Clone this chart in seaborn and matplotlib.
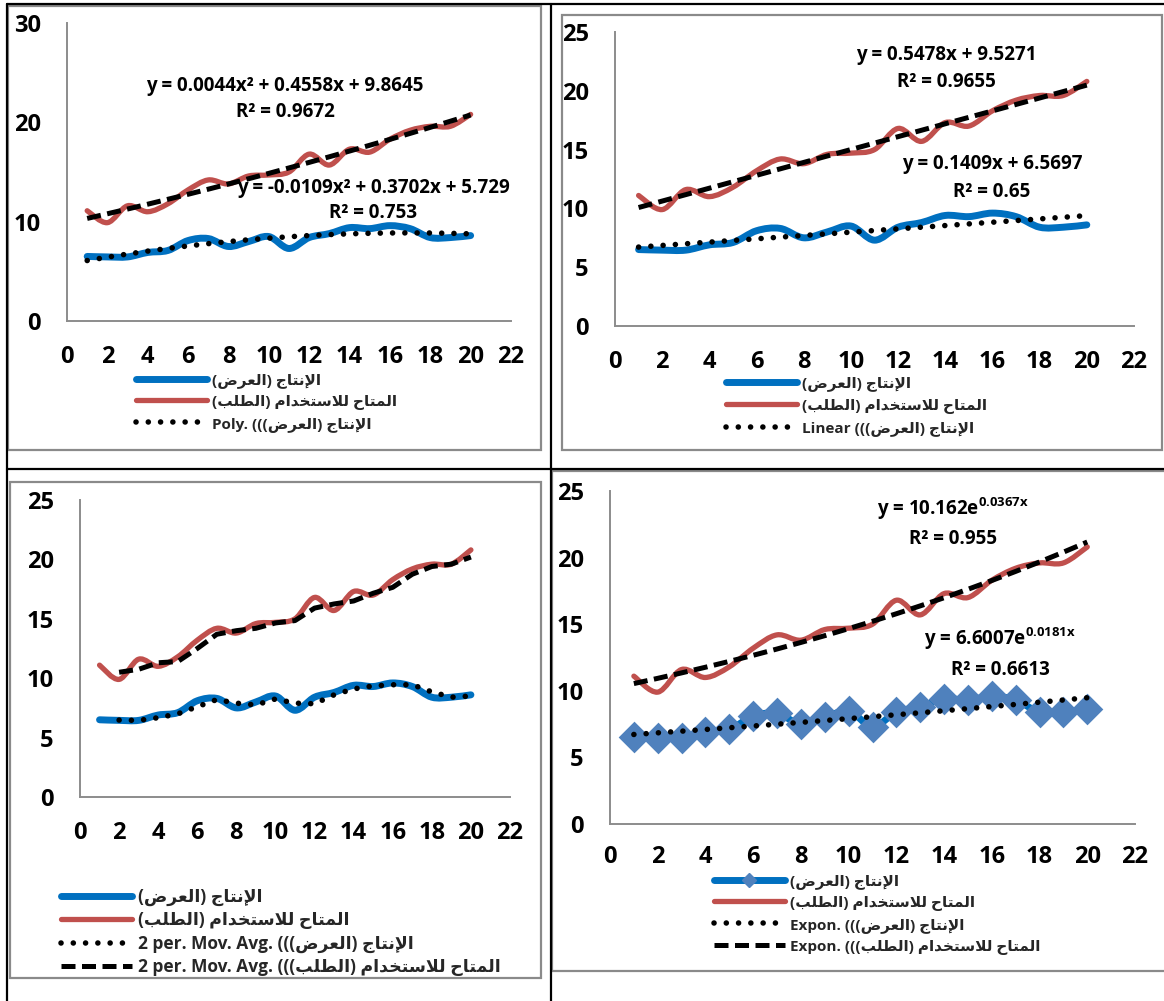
import numpy as np
import pandas as pd
import matplotlib
matplotlib.use('Agg')
import matplotlib.pyplot as plt
import seaborn as sns
from matplotlib.path import Path
from matplotlib.patches import PathPatch, Rectangle
from matplotlib.lines import Line2D

# ---- data ----
periods = list(range(1, 21))
supply = [6.5, 6.45, 6.45, 6.9, 7.1, 8.1, 8.3, 7.5, 8.0, 8.5,
          7.3, 8.4, 8.8, 9.4, 9.3, 9.6, 9.3, 8.4, 8.4, 8.6]
demand = [11.1, 9.9, 11.6, 11.0, 11.8, 13.2, 14.2, 13.8, 14.6, 14.7,
          15.0, 16.8, 15.7, 17.3, 17.0, 18.3, 19.2, 19.6, 19.6, 20.8]

# trendline coefficients as printed on the charts
poly_supply = [-0.0109, 0.3702, 5.729]
poly_demand = [0.0044, 0.4558, 9.8645]
lin_supply = [0.1409, 6.5697]
lin_demand = [0.5478, 9.5271]
exp_supply = [6.6007, 0.0181]
exp_demand = [10.162, 0.0367]

eq_poly = ['y = 0.0044x² + 0.4558x + 9.8645', 'R² = 0.9672',
           'y = -0.0109x² + 0.3702x + 5.729', 'R² = 0.753']
eq_lin = ['y = 0.5478x + 9.5271', 'R² = 0.9655',
          'y = 0.1409x + 6.5697', 'R² = 0.65']
eq_exp = ['y = 10.162e$^{0.0367x}$', 'R² = 0.955',
          'y = 6.6007e$^{0.0181x}$', 'R² = 0.6613']

name_supply = 'الإنتاج (العرض)'
name_demand = 'المتاح للاستخدام (الطلب)'

df = pd.DataFrame({'x': periods, 'supply': supply, 'demand': demand})

# ---- minimal arabic shaping (matplotlib has no shaping / bidi) ----
FORMS = {  # isolated, final, initial, medial
    'ا': ('\uFE8D', '\uFE8E', None, None),
    'إ': ('\uFE87', '\uFE88', None, None),
    'د': ('\uFEA9', '\uFEAA', None, None),
    'ر': ('\uFEAD', '\uFEAE', None, None),
    'ب': ('\uFE8F', '\uFE90', '\uFE91', '\uFE92'),
    'ت': ('\uFE95', '\uFE96', '\uFE97', '\uFE98'),
    'ج': ('\uFE9D', '\uFE9E', '\uFE9F', '\uFEA0'),
    'ح': ('\uFEA1', '\uFEA2', '\uFEA3', '\uFEA4'),
    'خ': ('\uFEA5', '\uFEA6', '\uFEA7', '\uFEA8'),
    'س': ('\uFEB1', '\uFEB2', '\uFEB3', '\uFEB4'),
    'ض': ('\uFEBD', '\uFEBE', '\uFEBF', '\uFEC0'),
    'ط': ('\uFEC1', '\uFEC2', '\uFEC3', '\uFEC4'),
    'ع': ('\uFEC9', '\uFECA', '\uFECB', '\uFECC'),
    'ل': ('\uFEDD', '\uFEDE', '\uFEDF', '\uFEE0'),
    'م': ('\uFEE1', '\uFEE2', '\uFEE3', '\uFEE4'),
    'ن': ('\uFEE5', '\uFEE6', '\uFEE7', '\uFEE8'),
}
LAM_ALEF = {'ا': ('\uFEFB', '\uFEFC'), 'إ': ('\uFEF9', '\uFEFA')}
MIRROR = {'(': ')', ')': '('}


def ar(text):
    out = []
    prev_joins = False
    i = 0
    while i < len(text):
        c = text[i]
        nxt = text[i + 1] if i + 1 < len(text) else ''
        if c == 'ل' and nxt in LAM_ALEF:
            out.append(LAM_ALEF[nxt][1 if prev_joins else 0])
            prev_joins = False
            i += 2
            continue
        if c in FORMS:
            iso, fin, ini, med = FORMS[c]
            can_next = ini is not None and nxt in FORMS
            if prev_joins and can_next:
                g = med
            elif prev_joins:
                g = fin
            elif can_next:
                g = ini
            else:
                g = iso
            out.append(g)
            prev_joins = can_next
        else:
            out.append(c)
            prev_joins = False
        i += 1
    return ''.join(MIRROR.get(c, c) for c in reversed(out))


# ---- style ----
BLUE = '#0070C0'
RED = '#C0504D'
DIAMOND = '#4F81BD'
GRAY = '#8C8C8C'

sns.set_theme(style='white')
plt.rcParams['font.family'] = ['Open Sans', 'DejaVu Sans']
plt.rcParams['font.weight'] = 'bold'
plt.rcParams['mathtext.fontset'] = 'custom'
plt.rcParams['mathtext.default'] = 'regular'

DOT = dict(color='black', lw=4, linestyle=(0, (0.01, 2.2)), dash_capstyle='round', zorder=5)
DASH = dict(color='black', lw=3.6, linestyle=(0, (2.8, 1.3)), zorder=5)

W, H = 1164, 1001
fig = plt.figure(figsize=(W / 100, H / 100), dpi=100)


def rect(left, top, width, height):
    return [left / W, 1 - (top + height) / H, width / W, height / H]


def fxy(x, y):
    return (x / W, 1 - y / H)


def fig_line(x0, y0, x1, y1, color='black', lw=1.6):
    (a, b), (c, d) = fxy(x0, y0), fxy(x1, y1)
    fig.add_artist(Line2D([a, c], [b, d], color=color, lw=lw, transform=fig.transFigure))


def chart_box(x0, y0, x1, y1):
    fig.add_artist(Rectangle(fxy(x0, y1), (x1 - x0) / W, (y1 - y0) / H, fill=False,
                             edgecolor='#8A8A8A', lw=1.6, transform=fig.transFigure))


def smooth_line(ax, xs, ys, color, lw, zorder=3):
    pts = np.column_stack([xs, ys]).astype(float)
    ext = np.vstack([pts[0], pts, pts[-1]])
    verts = [pts[0]]
    codes = [Path.MOVETO]
    for i in range(len(pts) - 1):
        p0, p1, p2, p3 = ext[i], ext[i + 1], ext[i + 2], ext[i + 3]
        verts += [p1 + (p2 - p0) / 6, p2 - (p3 - p1) / 6, p2]
        codes += [Path.CURVE4] * 3
    ax.add_patch(PathPatch(Path(verts, codes), fill=False, edgecolor=color, lw=lw,
                           capstyle='round', joinstyle='round', zorder=zorder))


def style_axes(ax, ymax, ystep, ypad=11, xpad=9):
    ax.set_xlim(0, 22)
    ax.set_ylim(0, ymax)
    ax.set_xticks(range(0, 23, 2))
    ax.set_yticks(range(0, ymax + 1, ystep))
    ax.set_xlabel('')
    ax.set_ylabel('')
    ax.set_facecolor('none')
    ax.grid(False)
    for s in ['top', 'right']:
        ax.spines[s].set_visible(False)
    for s in ['left', 'bottom']:
        ax.spines[s].set_color(GRAY)
        ax.spines[s].set_linewidth(1.4)
    ax.tick_params(axis='both', direction='out', length=8, width=1.4, color=GRAY,
                   labelsize=17, labelcolor='black')
    ax.tick_params(axis='x', pad=xpad)
    ax.tick_params(axis='y', pad=ypad)
    for lab in ax.get_xticklabels() + ax.get_yticklabels():
        lab.set_fontweight('bold')


def add_legend(ax, handles, labels, x, y, size, spacing, sample_px=71):
    leg = ax.legend(handles, labels, loc='upper left', bbox_to_anchor=fxy(x, y),
                    bbox_transform=fig.transFigure, frameon=False, fontsize=size,
                    handlelength=sample_px / (size * 1.389), handletextpad=0.35,
                    labelspacing=spacing, borderpad=0, borderaxespad=0, numpoints=1)
    for t in leg.get_texts():
        t.set_fontweight('bold')


def add_eqs(lines, pos, size=13.5):
    for text, (x, y) in zip(lines, pos):
        fig.text(*fxy(x, y), text, ha='center', va='center', fontsize=size,
                 fontweight='bold', color='black')


h_supply = Line2D([], [], color=BLUE, lw=5, solid_capstyle='round')
h_demand = Line2D([], [], color=RED, lw=3.8, solid_capstyle='round')
h_dot = Line2D([], [], **DOT)
h_dash = Line2D([], [], **DASH)
h_supply_d = Line2D([], [], color=BLUE, lw=5, solid_capstyle='round', marker='D',
                    markersize=7, markerfacecolor=DIAMOND, markeredgecolor=DIAMOND)

# ---- table and chart frames ----
fig_line(7, 4, W, 4)
fig_line(7, 4, 7, H)
fig_line(551, 4, 551, H)
fig_line(7, 469, W, 469)
chart_box(8, 6, 541, 450)
chart_box(562, 15, 1162, 450)
chart_box(10, 482, 541, 978)
chart_box(552, 471, W + 10, 971)

# ---- panel 1: polynomial ----
ax1 = fig.add_axes(rect(67, 23, 444, 298))
smooth_line(ax1, df['x'], df['supply'], BLUE, 5)
smooth_line(ax1, df['x'], df['demand'], RED, 3.8)
sns.lineplot(x=periods, y=np.polyval(poly_supply, periods), ax=ax1, **DOT)
sns.lineplot(x=periods, y=np.polyval(poly_demand, periods), ax=ax1, **DASH)
style_axes(ax1, 30, 10)
add_legend(ax1, [h_supply, h_demand, h_dot],
           [ar(name_supply), ar(name_demand), 'Poly. ((' + ar(name_supply)],
           136, 373, 11, 0.45)
add_eqs(eq_poly, [(285, 86), (285, 112), (373, 188), (373, 213)])

# ---- panel 2: linear ----
ax2 = fig.add_axes(rect(615, 32, 519, 294))
smooth_line(ax2, df['x'], df['supply'], BLUE, 5)
smooth_line(ax2, df['x'], df['demand'], RED, 3.8)
sns.lineplot(x=periods, y=np.polyval(lin_supply, periods), ax=ax2, **DOT)
sns.lineplot(x=periods, y=np.polyval(lin_demand, periods), ax=ax2, **DASH)
style_axes(ax2, 25, 5)
add_legend(ax2, [h_supply, h_demand, h_dot],
           [ar(name_supply), ar(name_demand), 'Linear ((' + ar(name_supply)],
           726, 376, 11, 0.5)
add_eqs(eq_lin, [(946, 55), (946, 82), (992, 164), (992, 192)])

# ---- panel 3: moving average ----
ax3 = fig.add_axes(rect(80, 500, 430, 297))
smooth_line(ax3, df['x'], df['supply'], BLUE, 5)
smooth_line(ax3, df['x'], df['demand'], RED, 3.8)
sns.lineplot(x=df['x'], y=df['supply'].rolling(2).mean(), ax=ax3, **DOT)
sns.lineplot(x=df['x'], y=df['demand'].rolling(2).mean(), ax=ax3, **DASH)
style_axes(ax3, 25, 5)
add_legend(ax3, [h_supply, h_demand, h_dot, h_dash],
           [ar(name_supply), ar(name_demand),
            '2 per. Mov. Avg. ((' + ar(name_supply),
            '2 per. Mov. Avg. ((' + ar(name_demand)],
           61, 888, 12.5, 0.3)

# ---- panel 4: exponential ----
ax4 = fig.add_axes(rect(610, 491, 525, 333))
smooth_line(ax4, df['x'], df['supply'], BLUE, 5)
smooth_line(ax4, df['x'], df['demand'], RED, 3.8)
sns.scatterplot(x=periods, y=supply, ax=ax4, marker='D', s=260, color=DIAMOND,
                edgecolor=DIAMOND, linewidth=0, zorder=4)
sns.lineplot(x=periods, y=exp_supply[0] * np.exp(exp_supply[1] * np.array(periods)),
             ax=ax4, **DOT)
sns.lineplot(x=periods, y=exp_demand[0] * np.exp(exp_demand[1] * np.array(periods)),
             ax=ax4, **DASH)
style_axes(ax4, 25, 5, xpad=7)
add_legend(ax4, [h_supply_d, h_demand, h_dot, h_dash],
           [ar(name_supply), ar(name_demand),
            'Expon. ((' + ar(name_supply),
            'Expon. ((' + ar(name_demand)],
           714, 874, 11, 0.45)
add_eqs(eq_exp, [(953, 509), (953, 539), (1000, 639), (1000, 670)])

fig.savefig('out.png', dpi=100)
